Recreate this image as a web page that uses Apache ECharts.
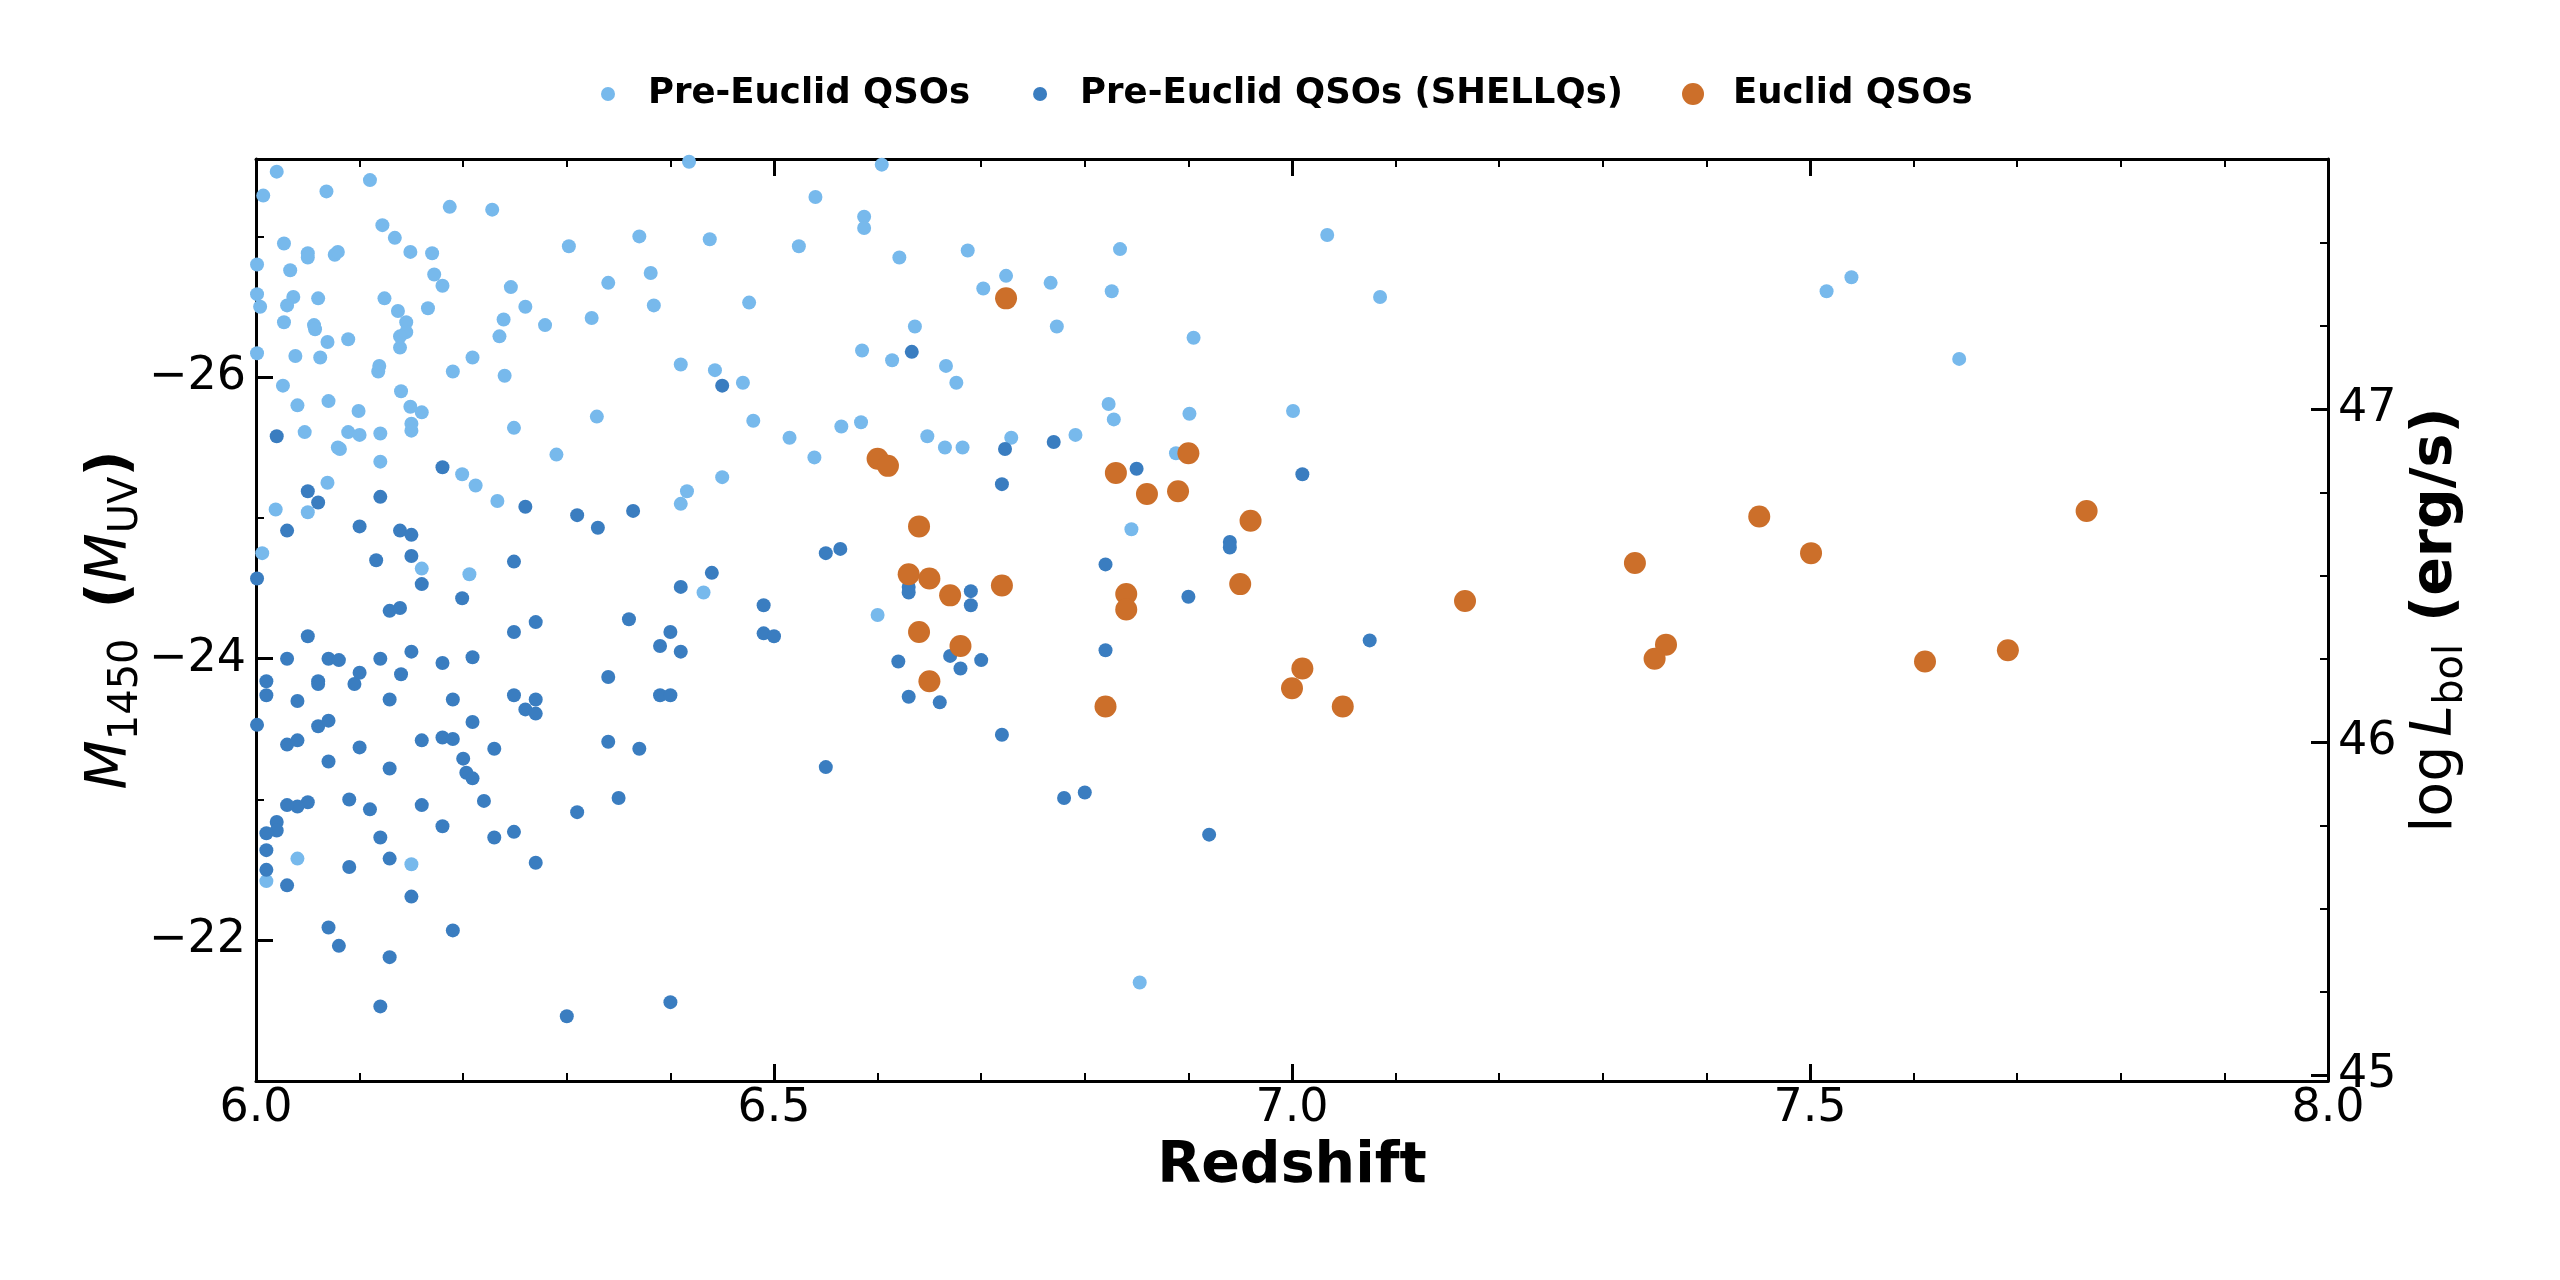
<!DOCTYPE html>
<html><head><meta charset="utf-8">
<script src="https://cdn.jsdelivr.net/npm/echarts@6.0.0/dist/echarts.min.js"></script>
<style>html,body{margin:0;padding:0;background:#fff}#c{width:2560px;height:1280px}</style>
</head><body><div id="c"></div>
<script>
// [redshift, M1450]
const preEuclid = [
[6.020,-27.46],[6.007,-27.29],[6.068,-27.32],[6.110,-27.40],[6.187,-27.21],[6.228,-27.19],[6.122,-27.08],[6.134,-26.99],
[6.027,-26.95],[6.050,-26.88],[6.050,-26.85],[6.076,-26.87],[6.079,-26.89],[6.149,-26.89],[6.170,-26.88],[6.001,-26.80],
[6.033,-26.76],[6.172,-26.73],[6.180,-26.65],[6.246,-26.64],[6.302,-26.93],[6.370,-27.00],[6.438,-26.98],[6.524,-26.93],
[6.381,-26.74],[6.340,-26.67],[6.476,-26.53],[6.384,-26.51],[6.001,-26.59],[6.004,-26.50],[6.036,-26.57],[6.030,-26.51],
[6.060,-26.56],[6.124,-26.56],[6.137,-26.47],[6.166,-26.49],[6.260,-26.50],[6.239,-26.41],[6.324,-26.42],[6.279,-26.37],
[6.027,-26.39],[6.056,-26.37],[6.057,-26.34],[6.145,-26.39],[6.145,-26.32],[6.139,-26.29],[6.139,-26.21],[6.069,-26.25],
[6.089,-26.27],[6.235,-26.29],[6.001,-26.17],[6.038,-26.15],[6.062,-26.14],[6.209,-26.14],[6.119,-26.08],[6.118,-26.04],
[6.190,-26.04],[6.240,-26.01],[6.410,-26.09],[6.443,-26.05],[6.470,-25.96],[6.026,-25.94],[6.140,-25.90],[6.040,-25.80],
[6.070,-25.83],[6.099,-25.76],[6.149,-25.79],[6.160,-25.75],[6.150,-25.67],[6.150,-25.62],[6.249,-25.64],[6.329,-25.72],
[6.480,-25.69],[6.515,-25.57],[6.047,-25.61],[6.089,-25.61],[6.100,-25.59],[6.120,-25.60],[6.079,-25.50],[6.081,-25.49],
[6.290,-25.45],[6.120,-25.40],[6.199,-25.31],[6.212,-25.23],[6.450,-25.29],[6.069,-25.25],[6.019,-25.06],[6.050,-25.04],
[6.233,-25.12],[6.416,-25.19],[6.410,-25.10],[6.006,-24.75],[6.160,-24.64],[6.206,-24.60],[6.432,-24.47],[6.418,-27.53],
[6.010,-22.42],[6.040,-22.58],[6.150,-22.54],
[6.604,-27.51],[6.540,-27.28],[6.587,-27.14],[6.587,-27.06],[6.621,-26.85],[6.687,-26.90],[6.724,-26.72],[6.702,-26.63],
[6.767,-26.67],[6.834,-26.91],[6.826,-26.61],[6.773,-26.36],[6.905,-26.28],[7.034,-27.01],[6.636,-26.36],[6.585,-26.19],
[6.614,-26.12],[6.666,-26.08],[6.676,-25.96],[6.823,-25.81],[6.828,-25.70],[6.901,-25.74],[7.001,-25.76],[6.565,-25.65],
[6.584,-25.68],[6.539,-25.43],[6.648,-25.58],[6.665,-25.50],[6.682,-25.50],[6.729,-25.57],[6.791,-25.59],[6.888,-25.46],
[6.845,-24.92],[6.600,-24.31],[6.853,-21.70],
[7.085,-26.57],[7.516,-26.61],[7.540,-26.71],[7.644,-26.13]
];
const shellqs = [
[6.020,-25.58],[6.450,-25.94],[6.180,-25.36],[6.050,-25.19],[6.060,-25.11],[6.120,-25.15],[6.260,-25.08],[6.310,-25.02],
[6.364,-25.05],[6.330,-24.93],[6.030,-24.91],[6.100,-24.94],[6.139,-24.91],[6.150,-24.88],[6.150,-24.73],[6.116,-24.70],
[6.249,-24.69],[6.440,-24.61],[6.410,-24.51],[6.160,-24.53],[6.001,-24.57],[6.199,-24.43],[6.129,-24.34],[6.139,-24.36],
[6.490,-24.38],[6.270,-24.26],[6.360,-24.28],[6.249,-24.19],[6.400,-24.19],[6.050,-24.16],[6.490,-24.18],[6.500,-24.16],
[6.390,-24.09],
[6.030,-24.00],[6.010,-23.84],[6.010,-23.74],[6.040,-23.70],[6.070,-24.00],[6.080,-23.99],[6.060,-23.84],[6.060,-23.82],
[6.095,-23.82],[6.100,-23.90],[6.120,-24.00],[6.150,-24.05],[6.140,-23.89],[6.129,-23.71],[6.180,-23.97],[6.209,-24.01],
[6.190,-23.71],[6.001,-23.53],[6.060,-23.52],[6.070,-23.56],[6.030,-23.39],[6.040,-23.42],[6.100,-23.37],[6.070,-23.27],
[6.129,-23.22],[6.160,-23.42],[6.180,-23.44],[6.190,-23.43],[6.209,-23.55],[6.200,-23.29],[6.203,-23.19],[6.209,-23.15],
[6.230,-23.36],[6.249,-23.74],[6.270,-23.71],[6.260,-23.64],[6.270,-23.61],[6.340,-23.87],[6.410,-24.05],[6.390,-23.74],
[6.400,-23.74],[6.340,-23.41],[6.370,-23.36],[6.350,-23.01],[6.310,-22.91],[6.249,-22.77],[6.230,-22.73],[6.270,-22.55],
[6.220,-22.99],[6.160,-22.96],[6.180,-22.81],[6.110,-22.93],[6.090,-23.00],[6.050,-22.98],[6.040,-22.95],[6.030,-22.96],
[6.020,-22.84],[6.020,-22.78],[6.010,-22.76],[6.010,-22.64],[6.010,-22.50],[6.030,-22.39],[6.090,-22.52],[6.120,-22.73],
[6.129,-22.58],[6.150,-22.31],[6.070,-22.09],[6.080,-21.96],[6.190,-22.07],[6.129,-21.88],[6.120,-21.53],[6.300,-21.46],
[6.400,-21.56],
[6.633,-26.18],[6.723,-25.49],[6.770,-25.54],[6.720,-25.24],[6.850,-25.35],[7.010,-25.31],[6.550,-24.75],[6.564,-24.78],
[6.820,-24.67],[6.940,-24.83],[6.940,-24.79],[6.630,-24.51],[6.630,-24.47],[6.690,-24.48],[6.690,-24.38],[6.900,-24.44],
[6.620,-23.98],[6.670,-24.02],[6.680,-23.93],[6.700,-23.99],[6.630,-23.73],[6.660,-23.69],[6.720,-23.46],[6.550,-23.23],
[6.780,-23.01],[6.800,-23.05],[6.920,-22.75],[6.820,-24.06],[7.075,-24.13]
];
const euclid = [
[6.724,-26.56],[6.600,-25.42],[6.610,-25.37],[6.830,-25.32],[6.900,-25.46],[6.860,-25.17],[6.890,-25.19],[6.640,-24.94],
[6.960,-24.98],[6.630,-24.60],[6.650,-24.57],[6.670,-24.45],[6.720,-24.52],[6.840,-24.46],[6.840,-24.35],[6.950,-24.53],
[6.640,-24.19],[6.680,-24.09],[6.650,-23.84],[6.820,-23.66],[7.010,-23.93],[7.000,-23.79],[7.049,-23.66],[7.451,-25.01],
[7.331,-24.68],[7.501,-24.75],[7.167,-24.41],[7.361,-24.10],[7.350,-24.00],[7.767,-25.05],[7.611,-23.98],[7.691,-24.06]
];
const seriesNames = ['Pre-Euclid QSOs', 'Pre-Euclid QSOs (SHELLQs)', 'Euclid QSOs'];
const xMajorTicks = [6.0, 6.5, 7.0, 7.5, 8.0];
const xMinorTicks = [6.1,6.2,6.3,6.4,6.6,6.7,6.8,6.9,7.1,7.2,7.3,7.4,7.6,7.7,7.8,7.9];
const mMajorTicks = [-26, -24, -22];
const mMinorTicks = [-27, -25, -23];
const lMajorTicks = [45, 46, 47];
const lMinorTicks = [45.25,45.5,45.75,46.25,46.5,46.75,47.25,47.5];

const FONT = 'DejaVu Sans';
const X_MIN = 6, X_MAX = 8, M_MIN = -27.55, M_MAX = -21.0, L_MIN = 44.982, L_MAX = 47.751;
const COLORS = ['#77b9ec', '#3a7dc0', '#cc6f2a'];

function tickAxis(pos, major, ticks, extra) {
  return Object.assign({
    type: 'value', position: pos,
    splitLine: { show: false },
    axisLine: { show: major, onZero: false, lineStyle: { color: '#000', width: 3 } },
    axisTick: { show: true, inside: true, length: major ? 17 : 8, customValues: ticks,
                lineStyle: { color: '#000', width: major ? 3 : 2 } },
    axisLabel: { show: false }
  }, extra);
}
const labelStyle = { fontSize: 46, fontFamily: FONT, color: '#000' };

const chart = echarts.init(document.getElementById('c'), null, { renderer: 'canvas' });
const smallIcon = 'path://M0,0M70,22M35,4A7,7,0,1,1,35,18A7,7,0,1,1,35,4Z';
const bigIcon = 'path://M0,0M70,22M35,0A11,11,0,1,1,35,22A11,11,0,1,1,35,0Z';

chart.setOption({
  animation: false,
  backgroundColor: '#fff',
  grid: { left: 256, top: 159, width: 2072, height: 922, outerBoundsMode: 'none', containLabel: false },
  legend: {
    left: 568, top: 71, itemWidth: 70, itemHeight: 22, itemGap: 35,
    textStyle: { fontSize: 35.5, fontWeight: 'bold', fontFamily: FONT, color: '#000' },
    itemStyle: { opacity: 1 },
    data: [
      { name: seriesNames[0], icon: smallIcon },
      { name: seriesNames[1], icon: smallIcon },
      { name: seriesNames[2], icon: bigIcon }
    ]
  },
  xAxis: [
    tickAxis('bottom', true, xMajorTicks, {
      min: X_MIN, max: X_MAX,
      axisLabel: Object.assign({ show: true, customValues: xMajorTicks, margin: 5,
        formatter: v => v.toFixed(1) }, labelStyle),
      name: 'Redshift', nameLocation: 'middle', nameGap: 58,
      nameTextStyle: { fontSize: 57, fontWeight: 'bold', fontFamily: FONT, color: '#000' }
    }),
    tickAxis('bottom', false, xMinorTicks, { min: X_MIN, max: X_MAX }),
    tickAxis('top', true, xMajorTicks, { min: X_MIN, max: X_MAX }),
    tickAxis('top', false, xMinorTicks, { min: X_MIN, max: X_MAX })
  ],
  yAxis: [
    tickAxis('left', true, mMajorTicks, {
      min: M_MIN, max: M_MAX, inverse: true,
      axisLabel: Object.assign({ show: true, customValues: mMajorTicks, margin: 10,
        formatter: v => '\u2212' + Math.abs(v) }, labelStyle),
      name: '{i|M}{s|1450}{g| }{b|(}{i|M}{s|UV}{b|)}',
      nameLocation: 'middle', nameRotate: 90, nameGap: 109, nameMoveOverlap: false,
      nameTextStyle: { color: '#000', rich: {
        i: { fontFamily: FONT, fontStyle: 'italic', fontSize: 57, lineHeight: 64, verticalAlign: 'top', color: '#000' },
        s: { fontFamily: FONT, fontSize: 40, lineHeight: 40, verticalAlign: 'bottom', color: '#000' },
        b: { fontFamily: FONT, fontWeight: 'bold', fontSize: 57, lineHeight: 64, verticalAlign: 'top', color: '#000' },
        g: { fontFamily: FONT, fontSize: 57, lineHeight: 64, width: 30, verticalAlign: 'top' }
      } }
    }),
    tickAxis('left', false, mMinorTicks, { min: M_MIN, max: M_MAX, inverse: true }),
    tickAxis('right', true, lMajorTicks, {
      min: L_MIN, max: L_MAX,
      axisLabel: Object.assign({ show: true, customValues: lMajorTicks, margin: 10,
        formatter: v => String(v) }, labelStyle),
      name: '{n|log}{t| }{i|L}{s|bol}{g| }{b|(erg/s)}',
      nameLocation: 'middle', nameRotate: 90, nameGap: 68,
      nameTextStyle: { color: '#000', rich: {
        n: { fontFamily: FONT, fontSize: 57, lineHeight: 64, verticalAlign: 'top', color: '#000' },
        t: { fontFamily: FONT, fontSize: 57, lineHeight: 64, width: 9, verticalAlign: 'top' },
        i: { fontFamily: FONT, fontStyle: 'italic', fontSize: 57, lineHeight: 64, verticalAlign: 'top', color: '#000' },
        s: { fontFamily: FONT, fontSize: 40, lineHeight: 40, verticalAlign: 'bottom', color: '#000' },
        g: { fontFamily: FONT, fontSize: 57, lineHeight: 64, width: 22, verticalAlign: 'top' },
        b: { fontFamily: FONT, fontWeight: 'bold', fontSize: 57, lineHeight: 64, verticalAlign: 'top', color: '#000' }
      } }
    }),
    tickAxis('right', false, lMinorTicks, { min: L_MIN, max: L_MAX })
  ],
  series: [
    { name: seriesNames[0], type: 'scatter', xAxisIndex: 0, yAxisIndex: 0, symbol: 'circle', symbolSize: 14,
      itemStyle: { color: COLORS[0], opacity: 1 }, data: preEuclid, z: 2 },
    { name: seriesNames[1], type: 'scatter', xAxisIndex: 0, yAxisIndex: 0, symbol: 'circle', symbolSize: 14,
      itemStyle: { color: COLORS[1], opacity: 1 }, data: shellqs, z: 3 },
    { name: seriesNames[2], type: 'scatter', xAxisIndex: 0, yAxisIndex: 0, symbol: 'circle', symbolSize: 22,
      itemStyle: { color: COLORS[2], opacity: 1 }, data: euclid, z: 4 }
  ]
});
</script>
</body></html>
